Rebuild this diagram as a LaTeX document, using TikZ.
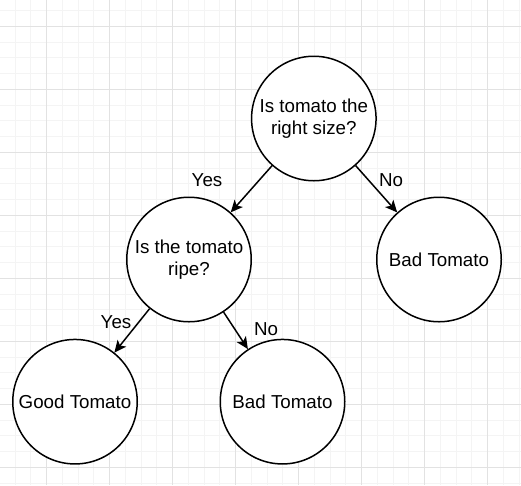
\documentclass[tikz,border=0pt]{standalone}
\usepackage{fontspec}
\setmainfont{Liberation Sans}
\usetikzlibrary{arrows.meta}
\definecolor{gridminor}{RGB}{244,244,244}
\definecolor{gridmajor}{RGB}{226,226,226}
\begin{document}
\begin{tikzpicture}[x=1pt,y=-1pt,
  state/.style={circle,draw=black,line width=1.5pt,minimum size=124.5pt,inner sep=0pt,
    align=center,fill=white,font=\fontsize{18.75}{22.5}\selectfont},
  edge/.style={-{Stealth[length=12pt,width=11pt,inset=3pt]},line width=1.5pt},
  lbl/.style={font=\fontsize{18.75}{22.5}\selectfont,anchor=base,inner sep=0pt},
  minorline/.style={draw=gridminor,line width=1pt},
  majorline/.style={draw=gridmajor,line width=1pt}]
\useasboundingbox (0,0) rectangle (521,485);
\fill[white] (0,0) rectangle (521,485);
\begin{scope}
  \clip (0,0) rectangle (521,485);
  \foreach \k in {-3,...,32} {
    \pgfmathsetmacro\gx{46.5+15.75*\k}
    \draw[minorline] (\gx,0) -- (\gx,485);
  }
  \foreach \k in {-2,...,30} {
    \pgfmathsetmacro\gy{26.3+15.75*\k}
    \draw[minorline] (0,\gy) -- (521,\gy);
  }
  \foreach \k in {-1,...,8} {
    \pgfmathsetmacro\gx{46.5+63*\k}
    \draw[majorline] (\gx,0) -- (\gx,485);
  }
  \foreach \k in {-1,...,8} {
    \pgfmathsetmacro\gy{26.3+63*\k}
    \draw[majorline] (0,\gy) -- (521,\gy);
  }
\end{scope}

\node[state] (size) at (313.8,118.5) {Is tomato the\\right size?};
\node[state] (ripe) at (189,259.5) {Is the tomato\\ripe?};
\node[state] (bad1) at (439,259.5) {Bad Tomato};
\node[state] (good) at (75,401.7) {Good Tomato};
\node[state] (bad2) at (282.5,401.7) {Bad Tomato};

\draw[edge] (size) -- (ripe);
\draw[edge] (size) -- (bad1);
\draw[edge] (ripe) -- (good);
\draw[edge] (ripe) -- (bad2);

\node[lbl] (yes1) at (207,186) {Yes};
\node[lbl] (no1) at (391,186) {No};
\node[lbl] (yes2) at (116,328.3) {Yes};
\node[lbl] (no2) at (266,335.7) {No};
\end{tikzpicture}
\end{document}
